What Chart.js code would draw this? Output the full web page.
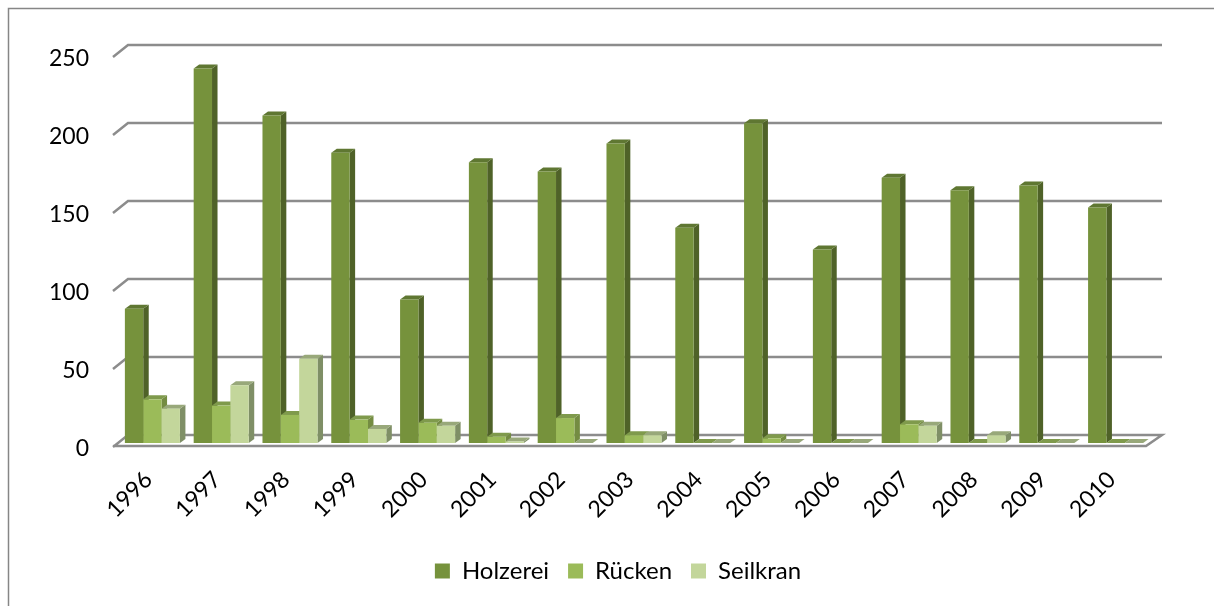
<!DOCTYPE html>
<html>
<head>
<meta charset="utf-8">
<style>
html, body { margin: 0; padding: 0; background: #fff; }
#wrap { width: 1214px; height: 606px; }
</style>
<script src="https://cdn.jsdelivr.net/npm/chart.js@4"></script>
</head>
<body>
<div id="wrap"><canvas id="barChart" width="1214" height="606"></canvas></div>
<script>
const years = ['1996', '1997', '1998', '1999', '2000', '2001', '2002', '2003', '2004', '2005', '2006', '2007', '2008', '2009', '2010'];
const holzerei = [86, 240, 210, 186, 92, 180, 174, 192, 138, 205, 124, 170, 162, 165, 151];
const ruecken = [28, 24, 18, 15, 13, 4, 16, 5, 0, 3, 0, 12, 0, 0, 0];
const seilkran = [22, 37, 54, 9, 11, 1, 0, 5, 0, 0, 0, 11, 5, 0, 0];
const yTicks = [0, 50, 100, 150, 200, 250];

const faces = [
    { side: '#4f6228', top: '#5f7732' },
    { side: '#748c42', top: '#7f9a4c' },
    { side: '#7f8f66', top: '#98a87a' }
];
const depthX = 5.5;
const depthY = 4;

// gridlines and 3D side faces go under the library's own bars
const box3d = {
    id: 'box3d',
    beforeDatasetsDraw(chart) {
        const c = chart.ctx;
        const y = chart.scales.y;
        const xLeft = 113, xBack = 128, xRight = 1162;

        c.save();
        c.strokeStyle = '#8c8c8c';
        c.lineWidth = 2.5;
        yTicks.forEach(v => {
            const py = y.getPixelForValue(v);
            c.beginPath();
            c.moveTo(xLeft, py + 4);
            c.lineTo(xBack, py - 8);
            c.lineTo(xRight, py - 8);
            if (v === 0) {
                c.lineTo(1146, py + 3);
                c.lineTo(xLeft, py + 3);
            }
            c.stroke();
        });

        const metas = chart.getSortedVisibleDatasetMetas();
        years.forEach((_, i) => {
            metas.forEach((meta, s) => {
                const bar = meta.data[i];
                const r = bar.x + bar.width / 2;
                const l = bar.x - bar.width / 2;
                c.fillStyle = faces[s].side;
                c.beginPath();
                c.moveTo(r, bar.y);
                c.lineTo(r + depthX, bar.y - depthY);
                c.lineTo(r + depthX, bar.base - depthY);
                c.lineTo(r, bar.base);
                c.closePath();
                c.fill();
                c.fillStyle = faces[s].top;
                c.beginPath();
                c.moveTo(l, bar.y);
                c.lineTo(l + depthX, bar.y - depthY);
                c.lineTo(r + depthX, bar.y - depthY);
                c.lineTo(r, bar.y);
                c.closePath();
                c.fill();
            });
        });
        c.restore();
    },
    beforeDraw(chart) {
        // chart frame, only top and left are inside the crop
        const c = chart.ctx;
        c.save();
        c.strokeStyle = '#868686';
        c.lineWidth = 1.5;
        c.beginPath();
        c.moveTo(8.5, 606);
        c.lineTo(8.5, 8.5);
        c.lineTo(1214, 8.5);
        c.stroke();
        c.restore();
    }
};

document.addEventListener('DOMContentLoaded', function () {
    const ctx = document.getElementById('barChart').getContext('2d');
    const font = { family: 'Lato', size: 23 };

    new Chart(ctx, {
        type: 'bar',
        data: {
            labels: years,
            datasets: [
                { label: 'Holzerei', data: holzerei, backgroundColor: '#76923c' },
                { label: 'Rücken', data: ruecken, backgroundColor: '#9bbb59' },
                { label: 'Seilkran', data: seilkran, backgroundColor: '#c3d69b' }
            ]
        },
        options: {
            responsive: false,
            animation: false,
            layout: { padding: { top: 53, left: 22, right: 0, bottom: 13 } },
            categoryPercentage: 0.8,
            barPercentage: 1,
            plugins: {
                tooltip: { enabled: false },
                legend: {
                    position: 'bottom',
                    labels: { boxWidth: 15, boxHeight: 15, padding: 19, color: '#000', font: { family: 'Lato', size: 24 } }
                }
            },
            scales: {
                x: {
                    grid: { display: false },
                    border: { display: false },
                    ticks: { color: '#000', font: font, maxRotation: 45, minRotation: 45, padding: 15, labelOffset: -4, autoSkip: false },
                    afterFit(scale) { scale.height = 97; }
                },
                y: {
                    min: 0,
                    max: 250,
                    afterBuildTicks(scale) { scale.ticks = yTicks.map(v => ({ value: v })); },
                    grid: { display: false },
                    border: { display: false },
                    ticks: { color: '#000', font: font, padding: 21, labelOffset: 6 },
                    afterFit(scale) { scale.width = 96; }
                },
                // empty scale, keeps the plot clear of the right edge so the legend centres like the original
                spacer: {
                    position: 'right',
                    grid: { display: false },
                    border: { display: false },
                    ticks: { display: false },
                    afterFit(scale) { scale.width = 64; }
                }
            }
        },
        plugins: [box3d]
    });
});
</script>
</body>
</html>
